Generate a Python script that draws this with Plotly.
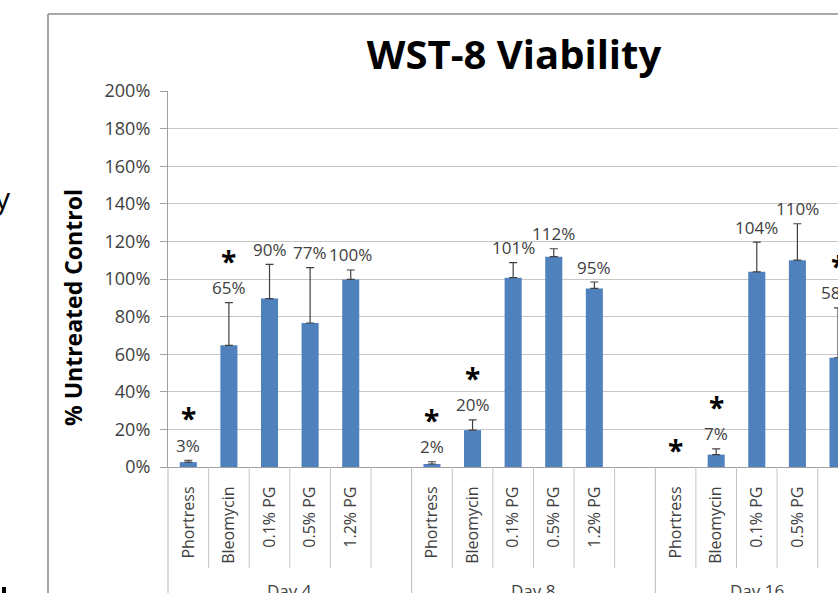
import plotly.graph_objects as go

# ---------------- data ----------------
days = ["Day 4", "Day 8", "Day 16"]
treatments = ["Phortress", "Bleomycin", "0.1% PG", "0.5% PG", "1.2% PG"]
slots_per_day = [6, 6, 5]          # category slots per day group (incl. blank spacer)

viability_d4 = [2.6, 64.7, 89.6, 76.6, 99.8]
viability_d8 = [1.6, 19.6, 100.7, 111.9, 95.0]
viability_d16 = [None, 6.6, 103.8, 110.0, 58.1]

error_d4 = [1.0, 22.7, 18.2, 29.4, 5.0]
error_d8 = [1.2, 5.5, 8.0, 4.2, 3.4]
error_d16 = [0.0, 3.0, 15.8, 19.4, 26.5]

signif_d4 = [True, True, False, False, False]
signif_d8 = [True, True, False, False, False]
signif_d16 = [True, True, False, False, True]

y_tick_values = [0, 20, 40, 60, 80, 100, 120, 140, 160, 180, 200]
y_tick_labels = [f"{v}%" for v in y_tick_values]

# ---------------- style ----------------
FONT = "Open Sans"
BAR_COLOR = "#4F81BD"
TEXT_GRAY = "#404040"
GRID = "#c6c6c6"
AXIS = "#a0a0a0"
x_range = [-0.5, 16.0]

values = [viability_d4, viability_d8, viability_d16]
errors = [error_d4, error_d8, error_d16]
signif = [signif_d4, signif_d8, signif_d16]

starts = []
s = 0
for n in slots_per_day:
    starts.append(s)
    s += n

xs, ys, es, labels = [], [], [], []
for d in range(len(days)):
    for t, name in enumerate(treatments):
        xs.append(starts[d] + t)
        ys.append(values[d][t])
        es.append(errors[d][t])
        labels.append(name)


def px(x):
    return (x - x_range[0]) / (x_range[1] - x_range[0])


W, H = 838, 593
ML, MR, MT, MB = 168, 0, 91, 126
plot_w = W - ML - MR
plot_h = H - MT - MB


def pxx(pixel_x):
    return (pixel_x - ML) / plot_w


def pxy(pixel_y):
    return (H - MB - pixel_y) / plot_h


fig = go.Figure()
fig.add_trace(go.Bar(
    x=xs, y=ys, width=0.42,
    marker=dict(color=BAR_COLOR, line=dict(width=0)),
    error_y=dict(type="data", symmetric=False, array=es,
                 arrayminus=[0] * len(es), color="#404040",
                 thickness=1.2, width=4),
    hoverinfo="skip",
))

annotations = []
shapes = []

# data labels and significance stars
i = 0
for d in range(len(days)):
    for t in range(len(treatments)):
        v = values[d][t]
        e = errors[d][t]
        top = (v or 0) + (e or 0)
        has_label = v is not None
        if has_label:
            annotations.append(dict(
                x=px(xs[i]), xref="paper", y=top, yref="y",
                text=f"{round(v)}%", showarrow=False,
                yanchor="middle", xanchor="center", yshift=15,
                font=dict(family=FONT, size=17, color=TEXT_GRAY)))
        if signif[d][t]:
            annotations.append(dict(
                x=px(xs[i]), xref="paper", y=top, yref="y",
                text="*", showarrow=False,
                yanchor="middle", xanchor="center",
                yshift=42 if has_label else 17,
                font=dict(family=FONT, size=28, color="black", weight="bold")))
        i += 1

# separators below axis
short_bottom = pxy(568)
for d, (st, n) in enumerate(zip(starts, slots_per_day)):
    shapes.append(dict(type="line", xref="paper", yref="paper",
                       x0=px(st - 0.5), x1=px(st - 0.5), y0=0, y1=-0.5,
                       line=dict(color="#b8b8b8", width=1)))
    for k in range(1, n):
        xb = st + k - 0.5
        if xb < x_range[1]:
            shapes.append(dict(type="line", xref="paper", yref="paper",
                               x0=px(xb), x1=px(xb), y0=0, y1=short_bottom,
                               line=dict(color="#c4c4c4", width=1)))
    # group label
    center = st - 0.5 + n / 2
    annotations.append(dict(
        x=px(center), xref="paper", y=pxy(577), yref="paper",
        text=days[d], showarrow=False, yanchor="top", xanchor="center",
        font=dict(family=FONT, size=17, color=TEXT_GRAY)))

# outer chart border (left and top)
bx = pxx(48)
by = pxy(14)
shapes.append(dict(type="line", xref="paper", yref="paper",
                   x0=bx, x1=bx, y0=-0.5, y1=by,
                   line=dict(color="#8c8c8c", width=1.6)))
shapes.append(dict(type="line", xref="paper", yref="paper",
                   x0=bx, x1=1.5, y0=by, y1=by,
                   line=dict(color="#8c8c8c", width=1.6)))

# fragments of surrounding slide text
annotations.append(dict(
    x=pxx(3), xref="paper", y=pxy(197), yref="paper", text="y",
    showarrow=False, xanchor="center", yanchor="middle",
    font=dict(family=FONT, size=30, color="black")))
shapes.append(dict(type="rect", xref="paper", yref="paper",
                   x0=pxx(2), x1=pxx(6), y0=pxy(593), y1=pxy(587),
                   fillcolor="black", line=dict(width=0)))

# y axis title
annotations.append(dict(
    x=pxx(73), xref="paper", y=pxy(308), yref="paper",
    text="% Untreated Control", textangle=-90, showarrow=False,
    xanchor="center", yanchor="middle",
    font=dict(family=FONT, size=23, color="black", weight="bold")))

fig.update_layout(
    width=W, height=H,
    margin=dict(l=ML, r=MR, t=MT, b=MB, pad=0),
    paper_bgcolor="white", plot_bgcolor="white",
    showlegend=False,
    title=dict(text="WST-8 Viability", x=514 / W, xanchor="center",
               y=1 - 55 / H, yanchor="middle",
               font=dict(family=FONT, size=40, color="black", weight="bold")),
    annotations=annotations,
    shapes=shapes,
    xaxis=dict(range=x_range, tickmode="array", tickvals=xs, ticktext=labels,
               tickangle=-90, ticks="", showgrid=False, zeroline=False,
               showline=True, linecolor=AXIS, linewidth=1.2,
               ticklabelstandoff=12,
               tickfont=dict(family=FONT, size=16, color=TEXT_GRAY)),
    yaxis=dict(range=[0, 200], tickmode="array", tickvals=y_tick_values,
               ticktext=y_tick_labels, showgrid=True, gridcolor=GRID,
               gridwidth=1, zeroline=False, showline=True, linecolor=AXIS,
               linewidth=1.2, ticks="outside", ticklen=7, tickcolor=AXIS,
               ticklabelstandoff=6,
               tickfont=dict(family=FONT, size=18, color=TEXT_GRAY)),
)

fig.write_html(
    "out.html",
    config={"displayModeBar": False},
    post_script="document.body.style.margin='0';document.body.style.overflow='hidden';",
)
